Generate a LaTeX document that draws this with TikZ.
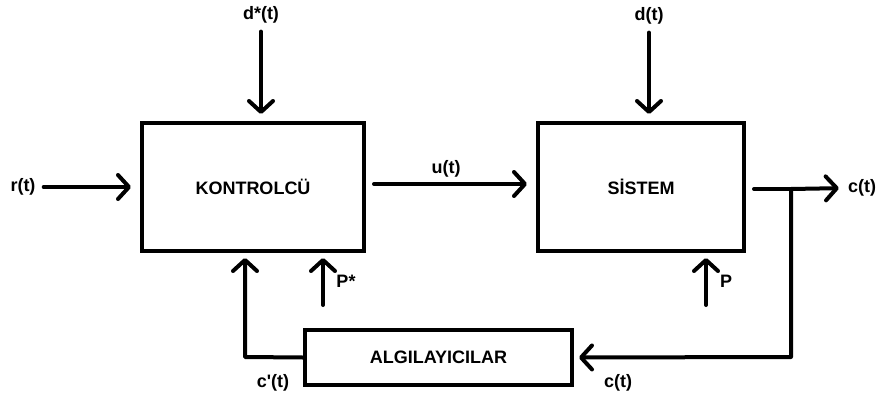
\documentclass[tikz,border=0pt]{standalone}
\usepackage{fontspec}
\setmainfont{Liberation Sans}
\newfontfamily\plainsans{Liberation Sans}
\usetikzlibrary{arrows.meta}
\begin{document}
\begin{tikzpicture}[x=1pt,y=-1pt,
  box/.style={draw,line width=4pt,minimum width=#1,inner sep=0pt},
  lbl/.style={font=\plainsans\fontsize{18}{20}\selectfont\bfseries,inner sep=0pt},
  conn/.style={line width=4pt,line cap=round,line join=round},
  arr/.style={conn,-{Straight Barb[length=11pt,width=24pt,round]}}]
\useasboundingbox (0,0) rectangle (886,399);
\node[box=222pt,minimum height=128pt,lbl] (K) at (253,187) {KONTROLCÜ};
\node[box=206pt,minimum height=128pt,lbl] (S) at (641,187) {SİSTEM};
\node[box=267pt,minimum height=55pt,lbl] (A) at (438.5,357.5) {ALGILAYICILAR};
\node[lbl] (rt) at (23,187) {r(t)};
\node[lbl] (dst) at (261,15) {d*(t)};
\node[lbl] (dt) at (649,16) {d(t)};
\node[lbl] (ut) at (446,169) {u(t)};
\node[lbl] (ct) at (862,188) {c(t)};
\node[lbl] (ct2) at (618,383) {c(t)};
\node[lbl] (cpt) at (273,383) {c'(t)};
\node[lbl] (Ps) at (346,281) {P*};
\node[lbl] (P) at (726,281) {P};
\coordinate (split) at (791,189);
\coordinate (low) at (791,357);
\coordinate (fbl) at (245,357);
\coordinate (pss) at (323,305);
\coordinate (ps) at (706,305);
\draw[arr,shorten <=8pt,shorten >=9pt] (rt.east) -- (K.west);
\draw[arr,shorten <=8pt,shorten >=7pt] (dst.south) -- (dst.south |- K.north);
\draw[arr,shorten <=8pt,shorten >=7pt] (dt.south) -- (dt.south |- S.north);
\draw[arr,shorten <=8pt,shorten >=9pt] ([yshift=3pt]K.east) -- ([yshift=3pt]S.west);
\draw[conn,shorten <=8pt] ([yshift=-2pt]S.east) -- (split);
\draw[arr,shorten >=9pt] (split) -- (ct.west);
\draw[arr,shorten >=5pt] (split) -- (low) -- (A.east);
\draw[arr,shorten >=5pt] (A.west) -- (fbl) -- (fbl |- K.south);
\draw[arr,shorten >=5pt] (pss) -- (pss |- K.south);
\draw[arr,shorten >=5pt] (ps) -- (ps |- S.south);
\end{tikzpicture}
\end{document}
